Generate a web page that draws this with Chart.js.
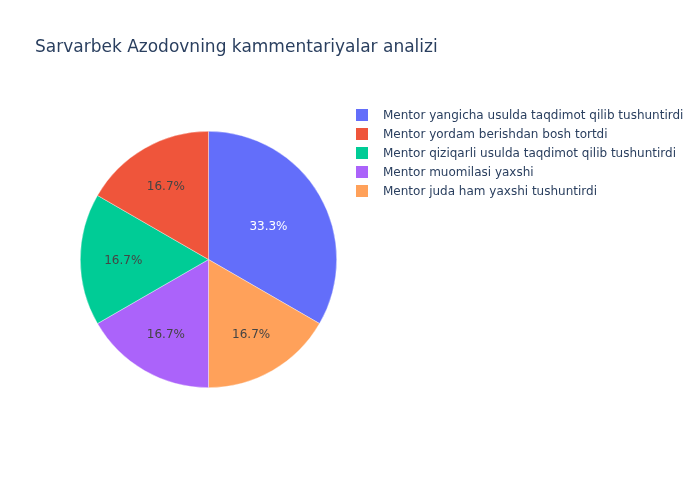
<!DOCTYPE html>
<html>
<head>
<meta charset="utf-8">
<script src="https://cdn.jsdelivr.net/npm/chart.js@4"></script>
<style>
html,body{margin:0;padding:0;background:#fff;}
#wrap{width:700px;height:500px;position:relative;}
</style>
</head>
<body>
<div id="wrap"><canvas id="c" width="700" height="500"></canvas></div>
<script>
const chartTitle = "Sarvarbek Azodovning kammentariyalar analizi";
const categories = [
  "Mentor yangicha usulda taqdimot qilib tushuntirdi",
  "Mentor yordam berishdan bosh tortdi",
  "Mentor qiziqarli usulda taqdimot qilib tushuntirdi",
  "Mentor muomilasi yaxshi",
  "Mentor juda ham yaxshi tushuntirdi"
];
const counts = [2, 1, 1, 1, 1];
const colors = ["#636efa", "#EF553B", "#00cc96", "#ab63fa", "#FFA15A"];
// order in which slices are drawn clockwise from 12 o'clock
const sliceOrder = [0, 4, 3, 2, 1];

const FONT = "'DejaVu Sans', Verdana, sans-serif";
const total = counts.reduce((a, b) => a + b, 0);

const drawLabels = sliceOrder.map(i => categories[i]);
const drawValues = sliceOrder.map(i => counts[i]);
const drawColors = sliceOrder.map(i => colors[i]);

const overlay = {
  id: 'overlay',
  afterDatasetsDraw(chart) {
    const ctx = chart.ctx;
    const meta = chart.getDatasetMeta(0);
    ctx.save();
    ctx.font = "12px " + FONT;
    ctx.textAlign = 'center';
    ctx.textBaseline = 'middle';
    meta.data.forEach((arc, k) => {
      const p = arc.getProps(['x', 'y', 'startAngle', 'endAngle', 'outerRadius'], true);
      const mid = (p.startAngle + p.endAngle) / 2;
      const frac = drawValues[k] / total;
      const rf = frac > 0.25 ? 0.54 : 0.665;
      const r = p.outerRadius * rf;
      const x = p.x + Math.cos(mid) * r;
      const y = p.y + Math.sin(mid) * r + 1.5;
      ctx.fillStyle = frac > 0.25 ? '#ffffff' : '#444444';
      ctx.fillText((frac * 100).toFixed(1) + '%', x, y);
    });
    ctx.restore();
  },
  afterDraw(chart) {
    const ctx = chart.ctx;
    ctx.save();
    ctx.fillStyle = '#2a3f5f';
    ctx.font = "17px " + FONT;
    ctx.textAlign = 'left';
    ctx.textBaseline = 'alphabetic';
    ctx.fillText(chartTitle, 35, 52);
    ctx.font = "12px " + FONT;
    categories.forEach((name, i) => {
      const cy = 115 + i * 19;
      ctx.fillStyle = colors[i];
      ctx.fillRect(356, cy - 6, 12, 12);
      ctx.fillStyle = '#2a3f5f';
      ctx.textBaseline = 'middle';
      ctx.fillText(name, 383, cy + 1);
    });
    ctx.restore();
  }
};

new Chart(document.getElementById('c'), {
  type: 'pie',
  data: {
    labels: drawLabels,
    datasets: [{
      data: drawValues,
      backgroundColor: drawColors,
      borderColor: 'rgba(255,255,255,0.6)',
      borderWidth: 0.6,
      hoverOffset: 0
    }]
  },
  options: {
    responsive: false,
    animation: false,
    devicePixelRatio: 1,
    layout: { padding: { left: 80, right: 363, top: 131, bottom: 112 } },
    plugins: {
      legend: { display: false },
      title: { display: false },
      tooltip: { enabled: false }
    }
  },
  plugins: [overlay]
});
</script>
</body>
</html>
